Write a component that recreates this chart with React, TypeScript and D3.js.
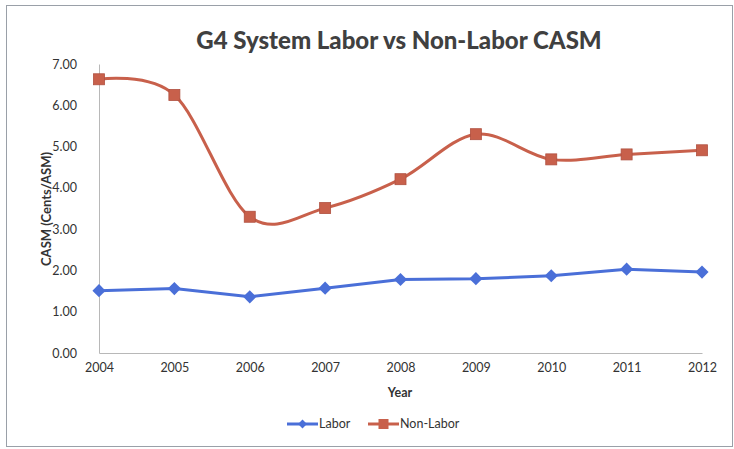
import * as d3 from 'd3'
import React, { useEffect, useRef } from 'react'

const years = ['2004', '2005', '2006', '2007', '2008', '2009', '2010', '2011', '2012']
const labor = [1.51, 1.56, 1.36, 1.57, 1.78, 1.8, 1.87, 2.03, 1.96]
const nonLabor = [6.63, 6.25, 3.3, 3.51, 4.21, 5.3, 4.69, 4.81, 4.91]
const yTicks = [0, 1, 2, 3, 4, 5, 6, 7]

const width = 734
const height = 449
const font = 'Lato, "Open Sans", sans-serif'

const App: React.FC = () => {
  const ref = useRef<SVGSVGElement>(null)

  useEffect(() => {
    const svg = d3.select(ref.current)
    svg.selectAll('*').remove()

    const margin = { top: 64, right: 32, bottom: 96, left: 99 }
    const x = d3.scalePoint<string>().domain(years).range([margin.left, width - margin.right])
    const y = d3.scaleLinear().domain([0, 7]).range([height - margin.bottom, margin.top])

    svg.append('rect').attr('x', 0).attr('y', 0).attr('width', width).attr('height', height).attr('fill', '#fff')
    svg
      .append('rect')
      .attr('x', 6.5)
      .attr('y', 5.5)
      .attr('width', 726)
      .attr('height', 441)
      .attr('fill', 'none')
      .attr('stroke', '#9aa0a8')

    // title
    svg
      .append('text')
      .attr('x', 399)
      .attr('y', 49)
      .attr('text-anchor', 'middle')
      .attr('font-family', font)
      .attr('font-weight', 900)
      .attr('font-size', 24)
      .attr('fill', '#404040')
      .text('G4 System Labor vs Non-Labor CASM')

    // axes
    const yAxis = svg
      .append('g')
      .attr('transform', `translate(${margin.left},0)`)
      .call(d3.axisLeft(y).tickValues(yTicks).tickFormat(d3.format('.2f')).tickSize(0).tickPadding(22))
    yAxis.select('.domain').attr('stroke', '#b8b8b8')
    yAxis.selectAll('text').attr('font-family', font).attr('font-size', 12.5).attr('fill', '#333')

    const xAxis = svg
      .append('g')
      .attr('transform', `translate(0,${y(0)})`)
      .call(d3.axisBottom(x).tickSize(0).tickPadding(10))
    xAxis.select('.domain').attr('stroke', '#b8b8b8')
    xAxis.selectAll('text').attr('font-family', font).attr('font-size', 12.5).attr('fill', '#333')

    svg
      .append('text')
      .attr('x', 400)
      .attr('y', 397)
      .attr('text-anchor', 'middle')
      .attr('font-family', font)
      .attr('font-weight', 'bold')
      .attr('font-size', 12.5)
      .attr('fill', '#333')
      .text('Year')

    svg
      .append('text')
      .attr('transform', `translate(51,209) rotate(-90)`)
      .attr('text-anchor', 'middle')
      .attr('font-family', font)
      .attr('font-weight', 'bold')
      .attr('font-size', 13)
      .attr('fill', '#333')
      .text('CASM (Cents/ASM)')

    const blue = '#4a6fd8'
    const red = '#c8604b'

    const smooth = d3
      .line<number>()
      .x((d, i) => x(years[i]) as number)
      .y((d) => y(d))
      .curve(d3.curveCardinal.tension(0))
    const straight = d3
      .line<number>()
      .x((d, i) => x(years[i]) as number)
      .y((d) => y(d))

    svg.append('path').attr('d', smooth(nonLabor)).attr('fill', 'none').attr('stroke', red).attr('stroke-width', 3)
    svg
      .selectAll('.sq')
      .data(nonLabor)
      .enter()
      .append('rect')
      .attr('x', (d, i) => (x(years[i]) as number) - 5.5)
      .attr('y', (d) => y(d) - 5.5)
      .attr('width', 11)
      .attr('height', 11)
      .attr('fill', red)
      .attr('stroke', '#b05040')
      .attr('stroke-width', 0.8)

    svg.append('path').attr('d', straight(labor)).attr('fill', 'none').attr('stroke', blue).attr('stroke-width', 3)
    svg
      .selectAll('.dm')
      .data(labor)
      .enter()
      .append('path')
      .attr('d', d3.symbol(d3.symbolDiamond2, 110)())
      .attr('transform', (d, i) => `translate(${x(years[i])},${y(d)})`)
      .attr('fill', blue)

    // legend
    const lg = svg.append('g').attr('font-family', font).attr('font-size', 12.5).attr('fill', '#333')
    lg.append('line').attr('x1', 287).attr('x2', 318).attr('y1', 424).attr('y2', 424).attr('stroke', blue).attr('stroke-width', 3)
    lg.append('path').attr('d', d3.symbol(d3.symbolDiamond2, 50)()).attr('transform', 'translate(302.5,424)').attr('fill', blue)
    lg.append('text').attr('x', 319).attr('y', 428).text('Labor')
    lg.append('line').attr('x1', 368).attr('x2', 399).attr('y1', 424).attr('y2', 424).attr('stroke', red).attr('stroke-width', 3)
    lg.append('rect').attr('x', 378.5).attr('y', 419).attr('width', 10).attr('height', 10).attr('fill', red)
    lg.append('text').attr('x', 400).attr('y', 428).text('Non-Labor')
  }, [])

  return (
    <svg ref={ref} width={width} height={height} style={{ position: 'absolute', left: 0, top: 0 }} />
  )
}

export default App
